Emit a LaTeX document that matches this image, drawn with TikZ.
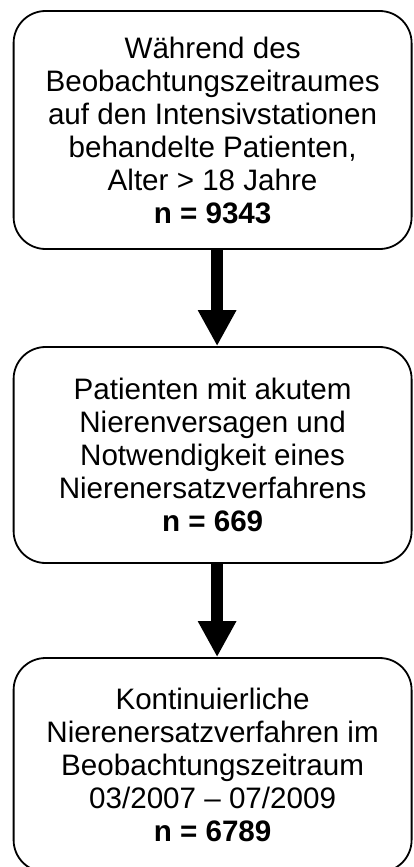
\documentclass[tikz,border=0pt]{standalone}
\usepackage{fontspec}
\setmainfont{Liberation Sans}
\usetikzlibrary{arrows.meta}

\begin{document}
\begin{tikzpicture}[x=1pt,y=1pt,
  box/.style={draw,line width=1.8pt,rounded corners=32pt,align=center,
              minimum width=398pt,inner sep=0pt,
              font=\fontsize{29.6}{33}\selectfont},
  flow/.style={line width=12pt,-{Triangle[length=36pt,width=36pt]}},
]
\useasboundingbox (0,0) rectangle (413,-867);
\clip (0,0) rectangle (413,-867);

\node[box,minimum height=238pt] (patients) at (212.6,-130)
  {Während des\\Beobachtungszeitraumes\\auf den Intensivstationen\\
   behandelte Patienten,\\Alter > 18 Jahre\\\textbf{n = 9343}};
\node[box,minimum height=216pt] (anv) at (212.6,-455)
  {Patienten mit akutem\\Nierenversagen und\\Notwendigkeit eines\\
   Nierenersatzverfahrens\\\textbf{n = 669}};
\node[box,minimum height=214pt] (cnev) at (212.6,-765)
  {Kontinuierliche\\Nierenersatzverfahren im\\Beobachtungszeitraum\\
   03/2007 -- 07/2009\\\textbf{n = 6789}};

\draw[flow] ([xshift=4.5pt]patients.south) -- ([xshift=4.5pt]anv.north);
\draw[flow] ([xshift=4.5pt]anv.south) -- ([xshift=4.5pt]cnev.north);
\end{tikzpicture}
\end{document}
